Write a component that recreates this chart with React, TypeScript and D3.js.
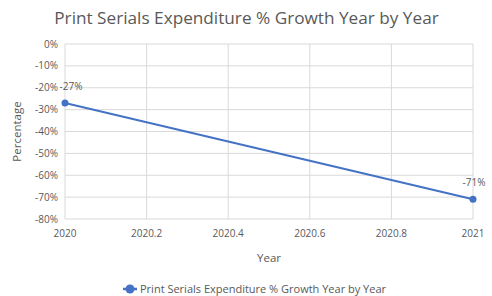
import React from "react";
import * as d3 from "d3";

const years = [2020, 2021];
const growth = [-0.27, -0.71];
const labels = ["-27%", "-71%"];
const xTicks = [2020, 2020.2, 2020.4, 2020.6, 2020.8, 2021];
const yTicks = [0, -0.1, -0.2, -0.3, -0.4, -0.5, -0.6, -0.7, -0.8];
const seriesName = "Print Serials Expenditure % Growth Year by Year";
const title = "Print Serials Expenditure % Growth Year by Year";

export default function App() {
  const W = 492, H = 296;
  const left = 65, right = 473, top = 44, bottom = 219;
  const x = d3.scaleLinear().domain([2020, 2021]).range([left, right]);
  const y = d3.scaleLinear().domain([-0.8, 0]).range([bottom, top]);
  const line = d3.line<number>().x((_, i) => x(years[i])).y((d) => y(d));
  const font = "'Open Sans', sans-serif";
  const grid = "#d9d9d9";
  const txt = "#595959";
  const blue = "#4472C4";
  const fmt = (t: number) => d3.format(".0%")(t).replace("\u2212", "-");
  return (
    <svg width={W} height={H} style={{ position: "absolute", left: 0, top: 0, fontFamily: font }}>
      <rect width={W} height={H} fill="#fff" />
      <text x={246.5} y={24} textAnchor="middle" fontSize={17.2} fill={txt}>{title}</text>
      {yTicks.map((t) => (
        <g key={"y" + t}>
          <line x1={left} x2={right} y1={y(t)} y2={y(t)} stroke={grid} strokeWidth={1} />
          <text x={left - 7} y={y(t) + 3.5} textAnchor="end" fontSize={10} fill={txt}>
            {fmt(t)}
          </text>
        </g>
      ))}
      {xTicks.map((t) => (
        <g key={"x" + t}>
          <line x1={x(t)} x2={x(t)} y1={top} y2={bottom} stroke={grid} strokeWidth={1} />
          <text x={x(t)} y={bottom + 18} textAnchor="middle" fontSize={10} fill={txt}>
            {String(t)}
          </text>
        </g>
      ))}
      <text x={269} y={262} textAnchor="middle" fontSize={11.5} fill={txt}>Year</text>
      <text transform={`translate(21,${(top + bottom) / 2}) rotate(-90)`} textAnchor="middle" fontSize={11.5} fill={txt}>Percentage</text>
      <path d={line(growth) || ""} fill="none" stroke={blue} strokeWidth={2} />
      {growth.map((v, i) => (
        <g key={"p" + i}>
          <circle cx={x(years[i])} cy={y(v)} r={3.5} fill={blue} />
          <text x={x(years[i]) + (i === 0 ? 6 : 1)} y={y(v) - 13} textAnchor="middle" fontSize={10} fill={txt}>
            {labels[i]}
          </text>
        </g>
      ))}
      <g>
        <line x1={123} x2={137} y1={289} y2={289} stroke={blue} strokeWidth={2.5} />
        <circle cx={130} cy={289} r={4.5} fill={blue} />
        <text x={140} y={292.5} fontSize={11} fill={txt}>{seriesName}</text>
      </g>
    </svg>
  );
}
